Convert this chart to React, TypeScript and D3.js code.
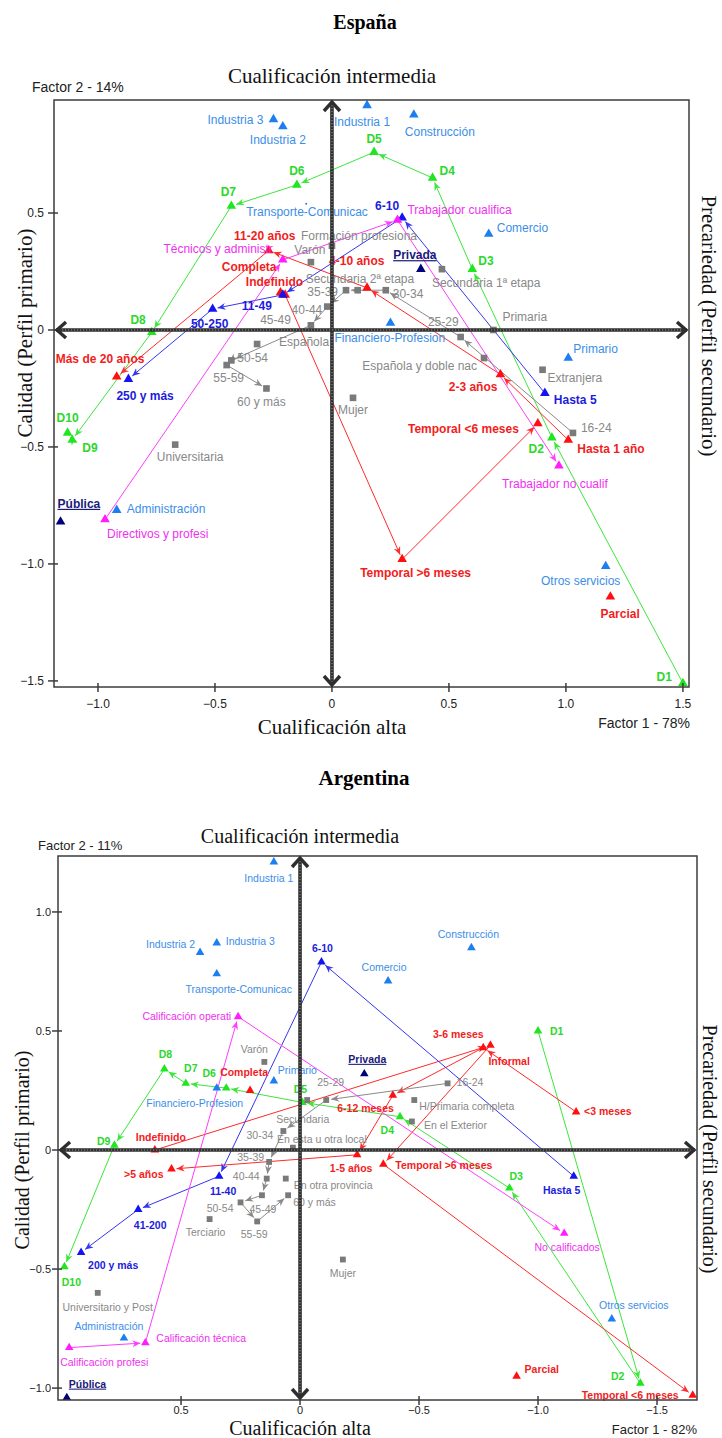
import React from "react";
import * as d3 from "d3";

type Pt = [string, number, number];
type LabelPos = [string, number, number, "start" | "middle" | "end"];

// ---------- España: coordinates on factor 1 (x) and factor 2 (y) ----------
const espRama: Pt[] = [
  ["Industria 1", 0.15, 0.96],
  ["Industria 2", -0.21, 0.87],
  ["Industria 3", -0.25, 0.9],
  ["Construcción", 0.35, 0.92],
  ["Transporte-Comunicac", -0.11, 0.54],
  ["Comercio", 0.67, 0.41],
  ["Financiero-Profesion", 0.25, 0.03],
  ["Primario", 1.01, -0.12],
  ["Administración", -0.92, -0.77],
  ["Otros servicios", 1.17, -1.01],
];
const espDecil: Pt[] = [
  ["D1", 1.5, -1.51],
  ["D2", 0.94, -0.46],
  ["D3", 0.6, 0.26],
  ["D4", 0.43, 0.65],
  ["D5", 0.18, 0.76],
  ["D6", -0.15, 0.62],
  ["D7", -0.43, 0.53],
  ["D8", -0.77, -0.01],
  ["D9", -1.11, -0.47],
  ["D10", -1.13, -0.44],
];
const espAntig: Pt[] = [
  ["Hasta 1 año", 1.01, -0.47],
  ["2-3 años", 0.72, -0.19],
  ["4-10 años", 0.15, 0.18],
  ["11-20 años", -0.27, 0.34],
  ["Más de 20 años", -0.92, -0.2],
];
const espContrato: Pt[] = [
  ["Indefinido", -0.2, 0.15],
  ["Temporal >6 meses", 0.3, -0.98],
  ["Temporal <6 meses", 0.88, -0.4],
];
const espJornada: Pt[] = [
  ["Completa", -0.22, 0.16],
  ["Parcial", 1.19, -1.14],
];
const espTamano: Pt[] = [
  ["Hasta 5", 0.91, -0.27],
  ["6-10", 0.3, 0.48],
  ["11-49", -0.21, 0.15],
  ["50-250", -0.51, 0.09],
  ["250 y más", -0.87, -0.21],
];
const espOcupacion: Pt[] = [
  ["Directivos y profesi", -0.97, -0.81],
  ["Técnicos y administr", -0.21, 0.3],
  ["Trabajador cualifica", 0.28, 0.47],
  ["Trabajador no cualif", 0.97, -0.58],
];
const espSector: Pt[] = [
  ["Privada", 0.38, 0.26],
  ["Pública", -1.16, -0.82],
];
const espEstudios: Pt[] = [
  ["Primaria", 0.69, 0.0],
  ["Secundaria 1ª etapa", 0.47, 0.26],
  ["Secundaria 2ª etapa", 0.11, 0.17],
  ["Formación profesiona", 0.0, 0.36],
  ["Universitaria", -0.67, -0.49],
];
const espNacion: Pt[] = [
  ["Española", -0.32, -0.06],
  ["Española y doble nac", 0.65, -0.12],
  ["Extranjera", 0.9, -0.17],
];
const espSexo: Pt[] = [
  ["Varón", -0.09, 0.29],
  ["Mujer", 0.09, -0.29],
];
const espEdad: Pt[] = [
  ["16-24", 1.03, -0.44],
  ["25-29", 0.55, -0.03],
  ["30-34", 0.23, 0.17],
  ["35-39", 0.06, 0.17],
  ["40-44", -0.02, 0.1],
  ["45-49", -0.09, 0.02],
  ["50-54", -0.43, -0.13],
  ["55-59", -0.45, -0.15],
  ["60 y más", -0.28, -0.25],
];

// ---------- Argentina ----------
const argRama: Pt[] = [
  ["Industria 1", 0.11, 1.21],
  ["Industria 2", 0.42, 0.83],
  ["Industria 3", 0.35, 0.87],
  ["Transporte-Comunicac", 0.35, 0.74],
  ["Construcción", -0.72, 0.85],
  ["Comercio", -0.37, 0.71],
  ["Primario", 0.11, 0.29],
  ["Financiero-Profesion", 0.35, 0.26],
  ["Administración", 0.74, -0.79],
  ["Otros servicios", -1.31, -0.71],
];
const argDecil: Pt[] = [
  ["D1", -1.0, 0.5],
  ["D2", -1.43, -0.98],
  ["D3", -0.88, -0.16],
  ["D4", -0.42, 0.14],
  ["D5", -0.01, 0.2],
  ["D6", 0.31, 0.26],
  ["D7", 0.48, 0.28],
  ["D8", 0.57, 0.34],
  ["D9", 0.78, 0.02],
  ["D10", 0.99, -0.49],
];
const argAntig: Pt[] = [
  ["<3 meses", -1.16, 0.16],
  ["3-6 meses", -0.77, 0.43],
  ["6-12 meses", -0.39, 0.23],
  ["1-5 años", -0.24, -0.02],
  [">5 años", 0.54, -0.08],
];
const argContrato: Pt[] = [
  ["Indefinido", 0.61, 0.0],
  ["Informal", -0.8, 0.44],
  ["Temporal >6 meses", -0.35, -0.06],
  ["Temporal <6 meses", -1.65, -1.03],
];
const argJornada: Pt[] = [
  ["Completa", 0.21, 0.25],
  ["Parcial", -0.91, -0.95],
];
const argTamano: Pt[] = [
  ["Hasta 5", -1.15, -0.11],
  ["6-10", -0.09, 0.79],
  ["11-40", 0.34, -0.11],
  ["41-200", 0.68, -0.25],
  ["200 y más", 0.92, -0.43],
];
const argCalif: Pt[] = [
  ["Calificación profesi", 0.97, -0.83],
  ["Calificación técnica", 0.65, -0.81],
  ["Calificación operati", 0.26, 0.56],
  ["No calificados", -1.11, -0.35],
];
const argSector: Pt[] = [
  ["Privada", -0.27, 0.32],
  ["Pública", 0.98, -1.04],
];
const argSexo: Pt[] = [
  ["Varón", 0.15, 0.37],
  ["Mujer", -0.18, -0.46],
];
const argEdad: Pt[] = [
  ["16-24", -0.62, 0.28],
  ["25-29", -0.11, 0.21],
  ["30-34", 0.07, 0.08],
  ["35-39", 0.13, -0.05],
  ["40-44", 0.14, -0.12],
  ["45-49", 0.16, -0.19],
  ["50-54", 0.25, -0.22],
  ["55-59", 0.18, -0.3],
  ["60 y más", 0.05, -0.19],
];
const argEstudios: Pt[] = [
  ["H/Primaria completa", -0.48, 0.21],
  ["Secundaria", -0.03, 0.21],
  ["Terciario", 0.38, -0.29],
  ["Universitario y Post", 0.85, -0.6],
];
const argMigra: Pt[] = [
  ["En esta u otra local", 0.03, 0.01],
  ["En otra provincia", 0.06, -0.12],
  ["En el Exterior", -0.47, 0.12],
];

const espXTicks = [-1, -0.5, 0, 0.5, 1, 1.5];
const espYTicks = [0.5, 0, -0.5, -1, -1.5];
const argXTicks = [0.5, 0, -0.5, -1, -1.5];
const argYTicks = [1, 0.5, 0, -0.5, -1];

// label offsets (pixels from the point), layout only
const espLab: LabelPos[] = [
  ["Industria 3", -10, 5, "end"],
  ["Industria 2", -5, 18, "middle"],
  ["Industria 1", -5, 21, "middle"],
  ["Construcción", 26, 21, "middle"],
  ["Transporte-Comunicac", -60, 12, "start"],
  ["Comercio", 8, -2, "start"],
  ["Financiero-Profesion", -56, 19, "start"],
  ["Primario", 5, -5, "start"],
  ["Administración", 10, 3, "start"],
  ["Otros servicios", -25, 19, "middle"],
  ["D1", -11, -2, "end"],
  ["D2", -8, 15, "end"],
  ["D3", 6, -4, "start"],
  ["D4", 7, -3, "start"],
  ["D5", 0, -9, "middle"],
  ["D6", 0, -10, "middle"],
  ["D7", -3, -10, "middle"],
  ["D8", -6, -8, "end"],
  ["D9", 10, 12, "start"],
  ["D10", 0, -11, "middle"],
  ["Hasta 1 año", 9, 13, "start"],
  ["2-3 años", -3, 17, "end"],
  ["4-10 años", -38, -23, "start"],
  ["11-20 años", -4, -10, "middle"],
  ["Más de 20 años", -61, -14, "start"],
  ["Indefinido", 18, -9, "end"],
  ["Completa", -4, -22, "end"],
  ["Temporal >6 meses", -42, 18, "start"],
  ["Temporal <6 meses", -19, 9, "end"],
  ["Parcial", -10, 21, "start"],
  ["Hasta 5", 9, 11, "start"],
  ["6-10", -3, -8, "end"],
  ["11-49", -11, 15, "end"],
  ["50-250", -3, 19, "middle"],
  ["250 y más", -12, 21, "start"],
  ["Trabajador no cualif", -4, 22, "middle"],
  ["Trabajador cualifica", 10, -6, "start"],
  ["Técnicos y administr", -10, -7, "end"],
  ["Directivos y profesi", 2, 19, "start"],
  ["Privada", -6, -10, "middle"],
  ["Pública", -3, -14, "start"],
  ["Primaria", 9, -9, "start"],
  ["Secundaria 1ª etapa", -10, 18, "start"],
  ["Secundaria 2ª etapa", -52, -7, "start"],
  ["Formación profesiona", -31, -6, "start"],
  ["Universitaria", 15, 16, "middle"],
  ["Española", 22, 2, "start"],
  ["Española y doble nac", -7, 12, "end"],
  ["Extranjera", 5, 12, "start"],
  ["Varón", -1, -8, "middle"],
  ["Mujer", 0, 16, "middle"],
  ["16-24", 8, -1, "start"],
  ["25-29", -2, -11, "end"],
  ["30-34", 7, 8, "start"],
  ["35-39", -8, 6, "end"],
  ["40-44", -5, 7, "end"],
  ["45-49", -20, -1, "end"],
  ["50-54", 6, 2, "start"],
  ["55-59", 2, 17, "middle"],
  ["60 y más", -5, 18, "middle"],
];

const argLab: LabelPos[] = [
  ["Industria 1", -5, 20, "middle"],
  ["Industria 2", -5, -4, "end"],
  ["Industria 3", 9, 2, "start"],
  ["Transporte-Comunicac", 22, 19, "middle"],
  ["Construcción", -3, -10, "middle"],
  ["Comercio", -4, -10, "middle"],
  ["Primario", 4, -7, "start"],
  ["Financiero-Profesion", -22, 19, "middle"],
  ["Administración", -15, -8, "middle"],
  ["Otros servicios", 22, -10, "middle"],
  ["D1", 12, 4, "start"],
  ["D2", -16, -3, "end"],
  ["D3", 0, -8, "start"],
  ["D4", -6, 17, "end"],
  ["D5", -2, -9, "middle"],
  ["D6", -17, -11, "middle"],
  ["D7", 5, -11, "middle"],
  ["D8", 1, -11, "middle"],
  ["D9", -4, 0, "end"],
  ["D10", 7, 19, "middle"],
  ["<3 meses", 8, 3, "start"],
  ["3-6 meses", -25, -10, "middle"],
  ["6-12 meses", 1, 17, "end"],
  ["1-5 años", -6, 17, "middle"],
  [">5 años", -8, 9, "end"],
  ["Indefinido", 6, -9, "middle"],
  ["Informal", -2, 20, "start"],
  ["Temporal >6 meses", 12, 5, "start"],
  ["Temporal <6 meses", -14, 4, "end"],
  ["Completa", -6, -15, "middle"],
  ["Parcial", 8, -3, "start"],
  ["Hasta 5", -12, 18, "middle"],
  ["6-10", 1, -10, "middle"],
  ["11-40", 4, 19, "middle"],
  ["41-200", 12, 19, "middle"],
  ["200 y más", 7, 17, "start"],
  ["No calificados", 3, 18, "middle"],
  ["Calificación operati", -7, 3, "end"],
  ["Calificación técnica", 11, -1, "start"],
  ["Calificación profesi", -9, 18, "start"],
  ["Privada", 3, -11, "middle"],
  ["Pública", 2, -10, "start"],
  ["Varón", -10, -9, "middle"],
  ["Mujer", 0, 17, "middle"],
  ["16-24", 9, 3, "start"],
  ["25-29", -9, -14, "start"],
  ["30-34", -10, 8, "end"],
  ["35-39", -5, -1, "end"],
  ["40-44", -7, 1, "end"],
  ["45-49", 1, 18, "middle"],
  ["50-54", -7, 10, "end"],
  ["55-59", -3, 17, "middle"],
  ["60 y más", 5, 11, "start"],
  ["H/Primaria completa", 5, 10, "start"],
  ["Secundaria", -31, 23, "start"],
  ["Terciario", -4, 17, "middle"],
  ["Universitario y Post", 10, 18, "middle"],
  ["En esta u otra local", -16, -5, "start"],
  ["En otra provincia", 8, 10, "start"],
  ["En el Exterior", 12, 8, "start"],
];

const STYLES = {
  rama: { mark: "#1c7ef0", line: "#1c7ef0", text: "#3b8ee8", shape: "tri", bold: false, under: false },
  decil: { mark: "#1fe61f", line: "#3ce63c", text: "#2bd82b", shape: "tri", bold: true, under: false },
  rojo: { mark: "#ff1010", line: "#ff2a2a", text: "#f21d1d", shape: "tri", bold: true, under: false },
  tam: { mark: "#1414f0", line: "#3535f0", text: "#1c1cdc", shape: "tri", bold: true, under: false },
  ocup: { mark: "#ff1cff", line: "#ff3cff", text: "#f030f0", shape: "tri", bold: false, under: false },
  sector: { mark: "#00007a", line: "#00007a", text: "#1a1a7a", shape: "tri", bold: true, under: true },
  gris: { mark: "#7a7a7a", line: "#8a8a8a", text: "#888888", shape: "sq", bold: false, under: false },
};
type StyKey = keyof typeof STYLES;
type Group = { pts: Pt[]; sty: StyKey; chain?: boolean };

type Chart = {
  id: string;
  title: string;
  titlePos: [number, number];
  titleSize: number;
  box: [number, number, number, number];
  xDomain: [number, number];
  yDomain: [number, number];
  xTicks: number[];
  yTicks: number[];
  groups: Group[];
  labels: LabelPos[];
  tiny: string[];
  fs: number;
  tickFs: number;
  tri: number;
  sq: number;
  yTickLabelX: number;
  xTickLabelY: number;
  f2: [string, number, number, number];
  f1: [string, number, number, number];
  topTitle: [number, number];
  botTitle: [number, number];
  axisFs: number;
  leftTitle: [number, number];
  rightTitle: [number, number];
};

const espana: Chart = {
  id: "esp",
  title: "España",
  titlePos: [365, 29],
  titleSize: 20,
  box: [54, 100, 689, 687],
  xDomain: [-1.188, 1.526],
  yDomain: [0.983, -1.526],
  xTicks: espXTicks,
  yTicks: espYTicks,
  groups: [
    { pts: espRama, sty: "rama" },
    { pts: espDecil, sty: "decil", chain: true },
    { pts: espAntig, sty: "rojo", chain: true },
    { pts: espContrato, sty: "rojo", chain: true },
    { pts: espJornada, sty: "rojo" },
    { pts: espTamano, sty: "tam", chain: true },
    { pts: espOcupacion, sty: "ocup", chain: true },
    { pts: espSector, sty: "sector" },
    { pts: espEstudios, sty: "gris" },
    { pts: espNacion, sty: "gris" },
    { pts: espSexo, sty: "gris" },
    { pts: espEdad, sty: "gris", chain: true },
  ],
  labels: espLab,
  tiny: ["Transporte-Comunicac"],
  fs: 12,
  tickFs: 12,
  tri: 40,
  sq: 44,
  yTickLabelX: 44,
  xTickLabelY: 708,
  f2: ["Factor 2 - 14%", 32, 92, 14],
  f1: ["Factor 1 - 78%", 690, 728, 14],
  topTitle: [332, 83],
  botTitle: [332, 734],
  axisFs: 21,
  leftTitle: [32, 333],
  rightTitle: [702, 326],
};

const argentina: Chart = {
  id: "arg",
  title: "Argentina",
  titlePos: [364, 785],
  titleSize: 21,
  box: [58, 856, 697, 1400],
  xDomain: [1.017, -1.668],
  yDomain: [1.235, -1.05],
  xTicks: argXTicks,
  yTicks: argYTicks,
  groups: [
    { pts: argRama, sty: "rama" },
    { pts: argDecil, sty: "decil", chain: true },
    { pts: argAntig, sty: "rojo", chain: true },
    { pts: argContrato, sty: "rojo", chain: true },
    { pts: argJornada, sty: "rojo" },
    { pts: argTamano, sty: "tam", chain: true },
    { pts: argCalif, sty: "ocup", chain: true },
    { pts: argSector, sty: "sector" },
    { pts: argSexo, sty: "gris" },
    { pts: argEdad, sty: "gris", chain: true },
    { pts: argEstudios, sty: "gris" },
    { pts: argMigra, sty: "gris" },
  ],
  labels: argLab,
  tiny: [],
  fs: 10.5,
  tickFs: 11,
  tri: 32,
  sq: 34,
  yTickLabelX: 51,
  xTickLabelY: 1414,
  f2: ["Factor 2 - 11%", 38, 850, 13],
  f1: ["Factor 1 - 82%", 697, 1434, 13],
  topTitle: [300, 843],
  botTitle: [300, 1435],
  axisFs: 20,
  leftTitle: [29, 1150],
  rightTitle: [703, 1149],
};

const sans = "'Liberation Sans', Arial, sans-serif";
const serif = "'Liberation Serif', 'Times New Roman', serif";

function Biplot({ c }: { c: Chart }) {
  const [L, T, R, B] = c.box;
  const x = d3.scaleLinear().domain(c.xDomain).range([L, R]);
  const y = d3.scaleLinear().domain(c.yDomain).range([T, B]);
  const x0 = x(0);
  const y0 = y(0);
  const lab = new Map(c.labels.map((d) => [d[0], d] as const));
  const triPath = d3.symbol(d3.symbolTriangle, c.tri)() as string;
  const sqPath = d3.symbol(d3.symbolSquare, c.sq)() as string;
  const fmt = (v: number) => (v === 0 ? "0" : d3.format(".1f")(v));

  const segs = c.groups
    .filter((g) => g.chain)
    .flatMap((g) => d3.pairs(g.pts).map(([a, b]) => ({ a, b, sty: g.sty })));

  const axisCol = "#2e2e2e";

  return (
    <g>
      <text x={c.titlePos[0]} y={c.titlePos[1]} textAnchor="middle" fontFamily={serif}
        fontWeight="bold" fontSize={c.titleSize} fill="#000">{c.title}</text>

      {/* connecting lines */}
      <g fill="none" strokeWidth={1}>
        {segs.map((s, i) => {
          const x1 = x(s.a[1]), y1 = y(s.a[2]);
          const x2 = x(s.b[1]), y2 = y(s.b[2]);
          const len = Math.hypot(x2 - x1, y2 - y1);
          const k = Math.max(0, (len - 5) / len);
          return (
            <line key={i} x1={x1} y1={y1} x2={x1 + (x2 - x1) * k} y2={y1 + (y2 - y1) * k}
              stroke={STYLES[s.sty].line} markerEnd={`url(#arr-${s.sty})`} />
          );
        })}
      </g>

      {/* point marks */}
      {c.groups.map((g, gi) =>
        g.pts.map((p) => {
          const st = STYLES[g.sty];
          const px = x(p[1]), py = y(p[2]);
          if (c.tiny.includes(p[0]))
            return <circle key={gi + p[0]} cx={px} cy={py} r={1} fill={st.mark} />;
          return (
            <path key={gi + p[0]} d={st.shape === "sq" ? sqPath : triPath}
              transform={`translate(${px},${py})`} fill={st.mark} />
          );
        })
      )}

      {/* point labels */}
      {c.groups.map((g, gi) =>
        g.pts.map((p) => {
          const st = STYLES[g.sty];
          const lp = lab.get(p[0]) ?? [p[0], 6, -6, "start"];
          return (
            <text key={"t" + gi + p[0]} x={x(p[1]) + lp[1]} y={y(p[2]) + lp[2]} textAnchor={lp[3]}
              fontFamily={sans} fontSize={c.fs} fontWeight={st.bold ? "bold" : "normal"}
              fill={st.text} textDecoration={st.under ? "underline" : undefined}>
              {p[0]}
            </text>
          );
        })
      )}

      {/* frame */}
      <rect x={L} y={T} width={R - L} height={B - T} fill="none" stroke="#3c3c3c" strokeWidth={1.5} />
      {c.yTicks.map((v) => (
        <g key={"y" + v}>
          <line x1={L - 6} x2={L + 4} y1={y(v)} y2={y(v)} stroke="#3c3c3c" strokeWidth={1.5} />
          <text x={c.yTickLabelX} y={y(v) + 4} textAnchor="end" fontFamily={sans} fontSize={c.tickFs} fill="#222">
            {fmt(v)}
          </text>
        </g>
      ))}
      {c.xTicks.map((v) => (
        <g key={"x" + v}>
          <line x1={x(v)} x2={x(v)} y1={B - 4} y2={B + 5} stroke="#3c3c3c" strokeWidth={1.5} />
          <text x={x(v)} y={c.xTickLabelY} textAnchor="middle" fontFamily={sans} fontSize={c.tickFs} fill="#222">
            {fmt(v)}
          </text>
        </g>
      ))}

      {/* heavy dotted axes with arrow heads */}
      <g>
        <line x1={x0} x2={x0} y1={T + 2} y2={B - 2} stroke={axisCol} strokeWidth={3.6} />
        <line x1={x0} x2={x0} y1={T + 2} y2={B - 2} stroke="#9a9a9a" strokeWidth={1} strokeDasharray="1.2 1.8" />
        <line x1={L + 2} x2={R - 2} y1={y0} y2={y0} stroke={axisCol} strokeWidth={3.6} />
        <line x1={L + 2} x2={R - 2} y1={y0} y2={y0} stroke="#9a9a9a" strokeWidth={1} strokeDasharray="1.2 1.8" />
        <g fill="none" stroke={axisCol} strokeWidth={3.4}>
          <polyline points={`${x0 - 8},${T + 11} ${x0},${T + 2} ${x0 + 8},${T + 11}`} />
          <polyline points={`${x0 - 8},${B - 11} ${x0},${B - 2} ${x0 + 8},${B - 11}`} />
          <polyline points={`${L + 12},${y0 - 8} ${L + 3},${y0} ${L + 12},${y0 + 8}`} />
          <polyline points={`${R - 12},${y0 - 8} ${R - 3},${y0} ${R - 12},${y0 + 8}`} />
        </g>
      </g>

      {/* axis titles */}
      <text x={c.f2[1]} y={c.f2[2]} fontFamily={sans} fontSize={c.f2[3]} fill="#222">{c.f2[0]}</text>
      <text x={c.f1[1]} y={c.f1[2]} textAnchor="end" fontFamily={sans} fontSize={c.f1[3]} fill="#222">{c.f1[0]}</text>
      <text x={c.topTitle[0]} y={c.topTitle[1]} textAnchor="middle" fontFamily={serif} fontSize={c.axisFs} fill="#111">
        Cualificación intermedia
      </text>
      <text x={c.botTitle[0]} y={c.botTitle[1]} textAnchor="middle" fontFamily={serif} fontSize={c.axisFs} fill="#111">
        Cualificación alta
      </text>
      <text transform={`translate(${c.leftTitle[0]},${c.leftTitle[1]}) rotate(-90)`} textAnchor="middle"
        fontFamily={serif} fontSize={c.axisFs} fill="#111">
        Calidad (Perfil primario)
      </text>
      <text transform={`translate(${c.rightTitle[0]},${c.rightTitle[1]}) rotate(90)`} textAnchor="middle"
        fontFamily={serif} fontSize={c.axisFs} fill="#111">
        Precariedad (Perfil secundario)
      </text>
    </g>
  );
}

export default function App() {
  const keys = Object.keys(STYLES) as StyKey[];
  return (
    <svg width={722} height={1438} style={{ position: "absolute", left: 0, top: 0, background: "#fff" }}>
      <defs>
        {keys.map((k) => (
          <marker key={k} id={`arr-${k}`} markerUnits="userSpaceOnUse" markerWidth={9} markerHeight={8}
            refX={8} refY={4} orient="auto">
            <path d="M0,0.5 L8,4 L0,7.5 L2.5,4 Z" fill={STYLES[k].line} />
          </marker>
        ))}
      </defs>
      <Biplot c={espana} />
      <Biplot c={argentina} />
    </svg>
  );
}
